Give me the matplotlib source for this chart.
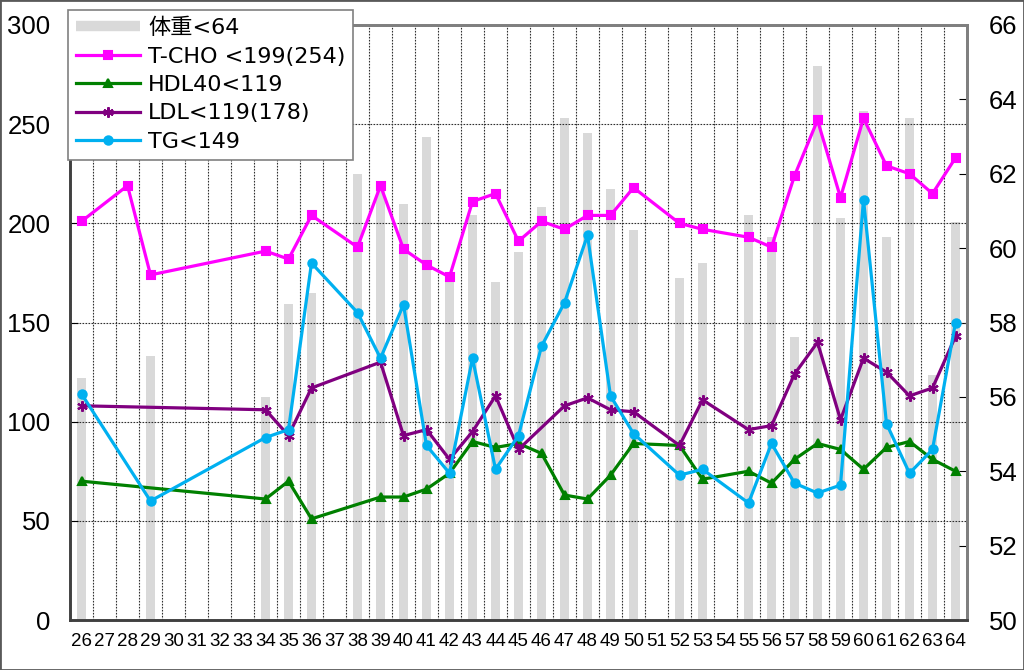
import numpy as np
import matplotlib
matplotlib.use('Agg')
import matplotlib.pyplot as plt
from matplotlib.lines import Line2D
from matplotlib.patches import Rectangle

# data (None = no measurement)
cats = list(range(26, 65))

weight = [56.5, None, None, 57.1, None, None, None, None, 56.0, 58.5,
          58.8, None, 62.0, 61.7, 61.2, 63.0, 59.1, 60.9, 59.1, 59.9,
          61.1, 63.5, 63.1, 61.6, 60.5, None, 59.2, 59.6, None, 60.9,
          60.3, 57.6, 64.9, 60.8, 63.7, 60.3, 63.5, 56.6, 60.7]

tcho = [201, None, 219, 174, None, None, None, None, 186, 182,
        204, None, 188, 219, 187, 179, 173, 211, 215, 191,
        201, 197, 204, 204, 218, None, 200, 197, None, 193,
        188, 224, 252, 213, 253, 229, 225, 215, 233]

hdl = [70, None, None, None, None, None, None, None, 61, 70,
       51, None, None, 62, 62, 66, 74, 90, 87, 89,
       84, 63, 61, 73, 89, None, 88, 71, None, 75,
       69, 81, 89, 86, 76, 87, 90, 81, 75]

ldl = [108, None, None, None, None, None, None, None, 106, 93,
       117, None, None, 130, 93, 96, 81, 95, 113, 86,
       None, 108, 112, 106, 105, None, 88, 111, None, 96,
       98, 124, 140, 101, 132, 125, 113, 117, 143]

tg = [114, None, None, 60, None, None, None, None, 92, 96,
      180, None, 155, 132, 159, 88, 74, 132, 76, 93,
      138, 160, 194, 113, 94, None, 73, 76, None, 59,
      89, 69, 64, 68, 212, 99, 74, 86, 150]

labels = ['体重<64', 'T-CHO <199(254)', 'HDL40<119', 'LDL<119(178)', 'TG<149']


def arr(v):
    return np.array([np.nan if a is None else a for a in v], dtype=float)


x = np.array(cats)

fig = plt.figure(figsize=(10.24, 6.70), dpi=100)
ax = fig.add_axes([70/1024, 1-620/670, (967-70)/1024, (620-25)/670])
ax2 = ax.twinx()
ax.set_zorder(ax2.get_zorder() + 1)
ax.patch.set_visible(False)

# bars on the right axis
w = arr(weight)
m = ~np.isnan(w)
ax2.bar(x[m], w[m], width=0.4, color='#D9D9D9', zorder=1)
ax2.set_ylim(50, 66)
ax2.set_yticks(np.arange(50, 67, 2))

# lines on the left axis
series = [(tcho, '#FF00FF', 's', 5.5),
          (hdl, '#008000', '^', 6),
          (ldl, '#800080', (6, 2, 0), 7.5),
          (tg, '#00B0F0', 'o', 6)]
handles = [Line2D([], [], color='#D9D9D9', lw=7.5, solid_capstyle='butt')]
for vals, col, mk, ms in series:
    y = arr(vals)
    k = ~np.isnan(y)
    h, = ax.plot(x[k], y[k], color=col, lw=2.3, marker=mk, ms=ms,
                 mec=col, mfc=col, mew=1.5, zorder=3)
    handles.append(h)

ax.set_ylim(0, 300)
ax.set_yticks(np.arange(0, 301, 50))
ax.set_xlim(25.5, 64.5)
ax.set_xticks(cats)
ax.set_xticks(np.arange(25.5, 64.6, 1), minor=True)

ax.grid(axis='y', which='major', color='#303030', lw=0.8, ls=(0, (1.5, 1.2)))
ax.grid(axis='x', which='minor', color='#303030', lw=0.8, ls=(0, (1.5, 1.2)))
ax.set_axisbelow(True)

ax.tick_params(axis='x', which='both', length=0, pad=9)
ax.set_xticklabels([str(c) for c in cats],
                   fontfamily=['Liberation Sans Narrow', 'Liberation Sans'],
                   fontsize=13.5)
ax.tick_params(axis='y', direction='in', length=6, pad=14, labelsize=18.5)
ax2.tick_params(axis='y', direction='in', length=6, pad=16, labelsize=18.5)
for lab in ax.get_yticklabels() + ax2.get_yticklabels():
    lab.set_fontfamily('Liberation Sans')

for a in (ax, ax2):
    for s in a.spines.values():
        s.set_linewidth(2)
        s.set_color('#7F7F7F')
ax.spines['left'].set_color('#404040')
ax.spines['bottom'].set_color('#404040')

leg = fig.legend(handles, labels, loc='upper left',
                 bbox_to_anchor=(68/1024, 1-10/670), borderaxespad=0,
                 frameon=True, fancybox=False, edgecolor='#808080',
                 framealpha=1, handlelength=2.9, handletextpad=0.35,
                 labelspacing=0.38, borderpad=0.35,
                 prop={'family': ['DejaVu Sans', 'Noto Sans CJK JP'], 'size': 16})
leg.get_frame().set_linewidth(1.2)

fig.patches.append(Rectangle((0, 0), 1, 1, transform=fig.transFigure,
                             fill=False, edgecolor='#595959', lw=2))

fig.savefig('out.png', dpi=100)
